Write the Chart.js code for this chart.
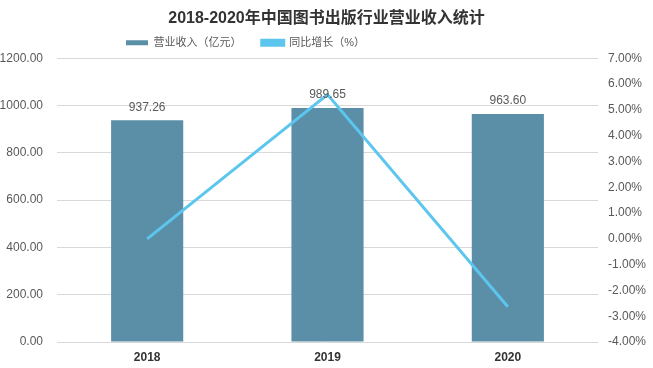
<!DOCTYPE html>
<html>
<head>
<meta charset="utf-8">
<script src="https://cdn.jsdelivr.net/npm/chart.js@4/dist/chart.umd.min.js"></script>
<style>
  html, body { margin: 0; padding: 0; background: #fff; }
  #wrap { width: 653px; height: 368px; }
</style>
</head>
<body>
<div id="wrap"><canvas id="chart" width="653" height="368"></canvas></div>
<script>
// --- data ---
const years = ['2018', '2019', '2020'];
const revenue = [937.26, 989.65, 963.60];      // 营业收入（亿元）
const growth = [0, 5.59, -2.63];               // 同比增长（%）

const FONT = "'Liberation Sans', 'Noto Sans CJK SC', sans-serif";
const TXT = '#595959';

// bar value labels
const barLabels = {
  id: 'barLabels',
  afterDatasetsDraw(chart) {
    const ctx = chart.ctx;
    const meta = chart.getDatasetMeta(1);
    ctx.save();
    ctx.font = '12px ' + FONT;
    ctx.fillStyle = TXT;
    ctx.textAlign = 'center';
    ctx.textBaseline = 'bottom';
    meta.data.forEach((bar, i) => {
      ctx.fillText(revenue[i].toFixed(2), bar.x, bar.y - 7);
    });
    ctx.restore();
  }
};

// legend sits left of centre in the original
const legendShift = {
  id: 'legendShift',
  afterLayout(chart) {
    const lg = chart.legend;
    const w = lg.right - lg.left;
    lg.left = 118;
    lg.right = lg.left + w;
  }
};

new Chart(document.getElementById('chart').getContext('2d'), {
  data: {
    labels: years,
    datasets: [
      {
        type: 'line',
        label: '同比增长（%）',
        data: growth,
        yAxisID: 'y1',
        borderColor: '#5cc6ee',
        backgroundColor: '#5cc6ee',
        borderWidth: 3,
        pointRadius: 0,
        tension: 0,
        order: 0
      },
      {
        type: 'bar',
        label: '营业收入（亿元）',
        data: revenue,
        yAxisID: 'y',
        backgroundColor: '#5b8fa8',
        categoryPercentage: 0.8,
        barPercentage: 0.5,
        order: 1
      }
    ]
  },
  options: {
    responsive: false,
    animation: false,
    layout: { padding: { top: 4, bottom: 2, left: 0, right: 0 } },
    plugins: {
      title: {
        display: true,
        text: '2018-2020年中国图书出版行业营业收入统计',
        color: '#333',
        font: { family: FONT, size: 16, weight: 'bold' },
        padding: { top: 5, bottom: 1 }
      },
      legend: {
        display: true,
        reverse: true,
        align: 'start',
        labels: {
          color: TXT,
          font: { family: FONT, size: 11 },
          boxWidth: 22,
          boxHeight: 5,
          padding: 8,
          generateLabels(chart) {
            const items = Chart.defaults.plugins.legend.labels.generateLabels(chart);
            // extra gap after first item
            items.forEach(it => { if (it.datasetIndex === 1) it.text += '    '; });
            return items;
          }
        }
      },
      tooltip: { enabled: false }
    },
    scales: {
      x: {
        grid: { display: false, drawTicks: false },
        border: { display: false },
        ticks: { color: '#333', font: { family: FONT, size: 12, weight: 'bold' }, padding: 8 },
        afterFit: s => { s.height = 24; }
      },
      y: {
        position: 'left',
        min: 0,
        max: 1200,
        ticks: {
          stepSize: 200,
          color: TXT,
          padding: 14,
          font: { family: FONT, size: 12 },
          callback: v => v.toFixed(2)
        },
        grid: { color: '#d9d9d9', drawTicks: false },
        border: { display: false },
        afterFit: s => { s.width = 57; }
      },
      y1: {
        position: 'right',
        min: -4,
        max: 7,
        ticks: {
          stepSize: 1,
          color: TXT,
          padding: 10,
          font: { family: FONT, size: 12 },
          callback: v => v.toFixed(2) + '%'
        },
        grid: { display: false, drawTicks: false },
        border: { display: false },
        afterFit: s => { s.width = 55; }
      }
    }
  },
  plugins: [barLabels, legendShift]
});
</script>
</body>
</html>
